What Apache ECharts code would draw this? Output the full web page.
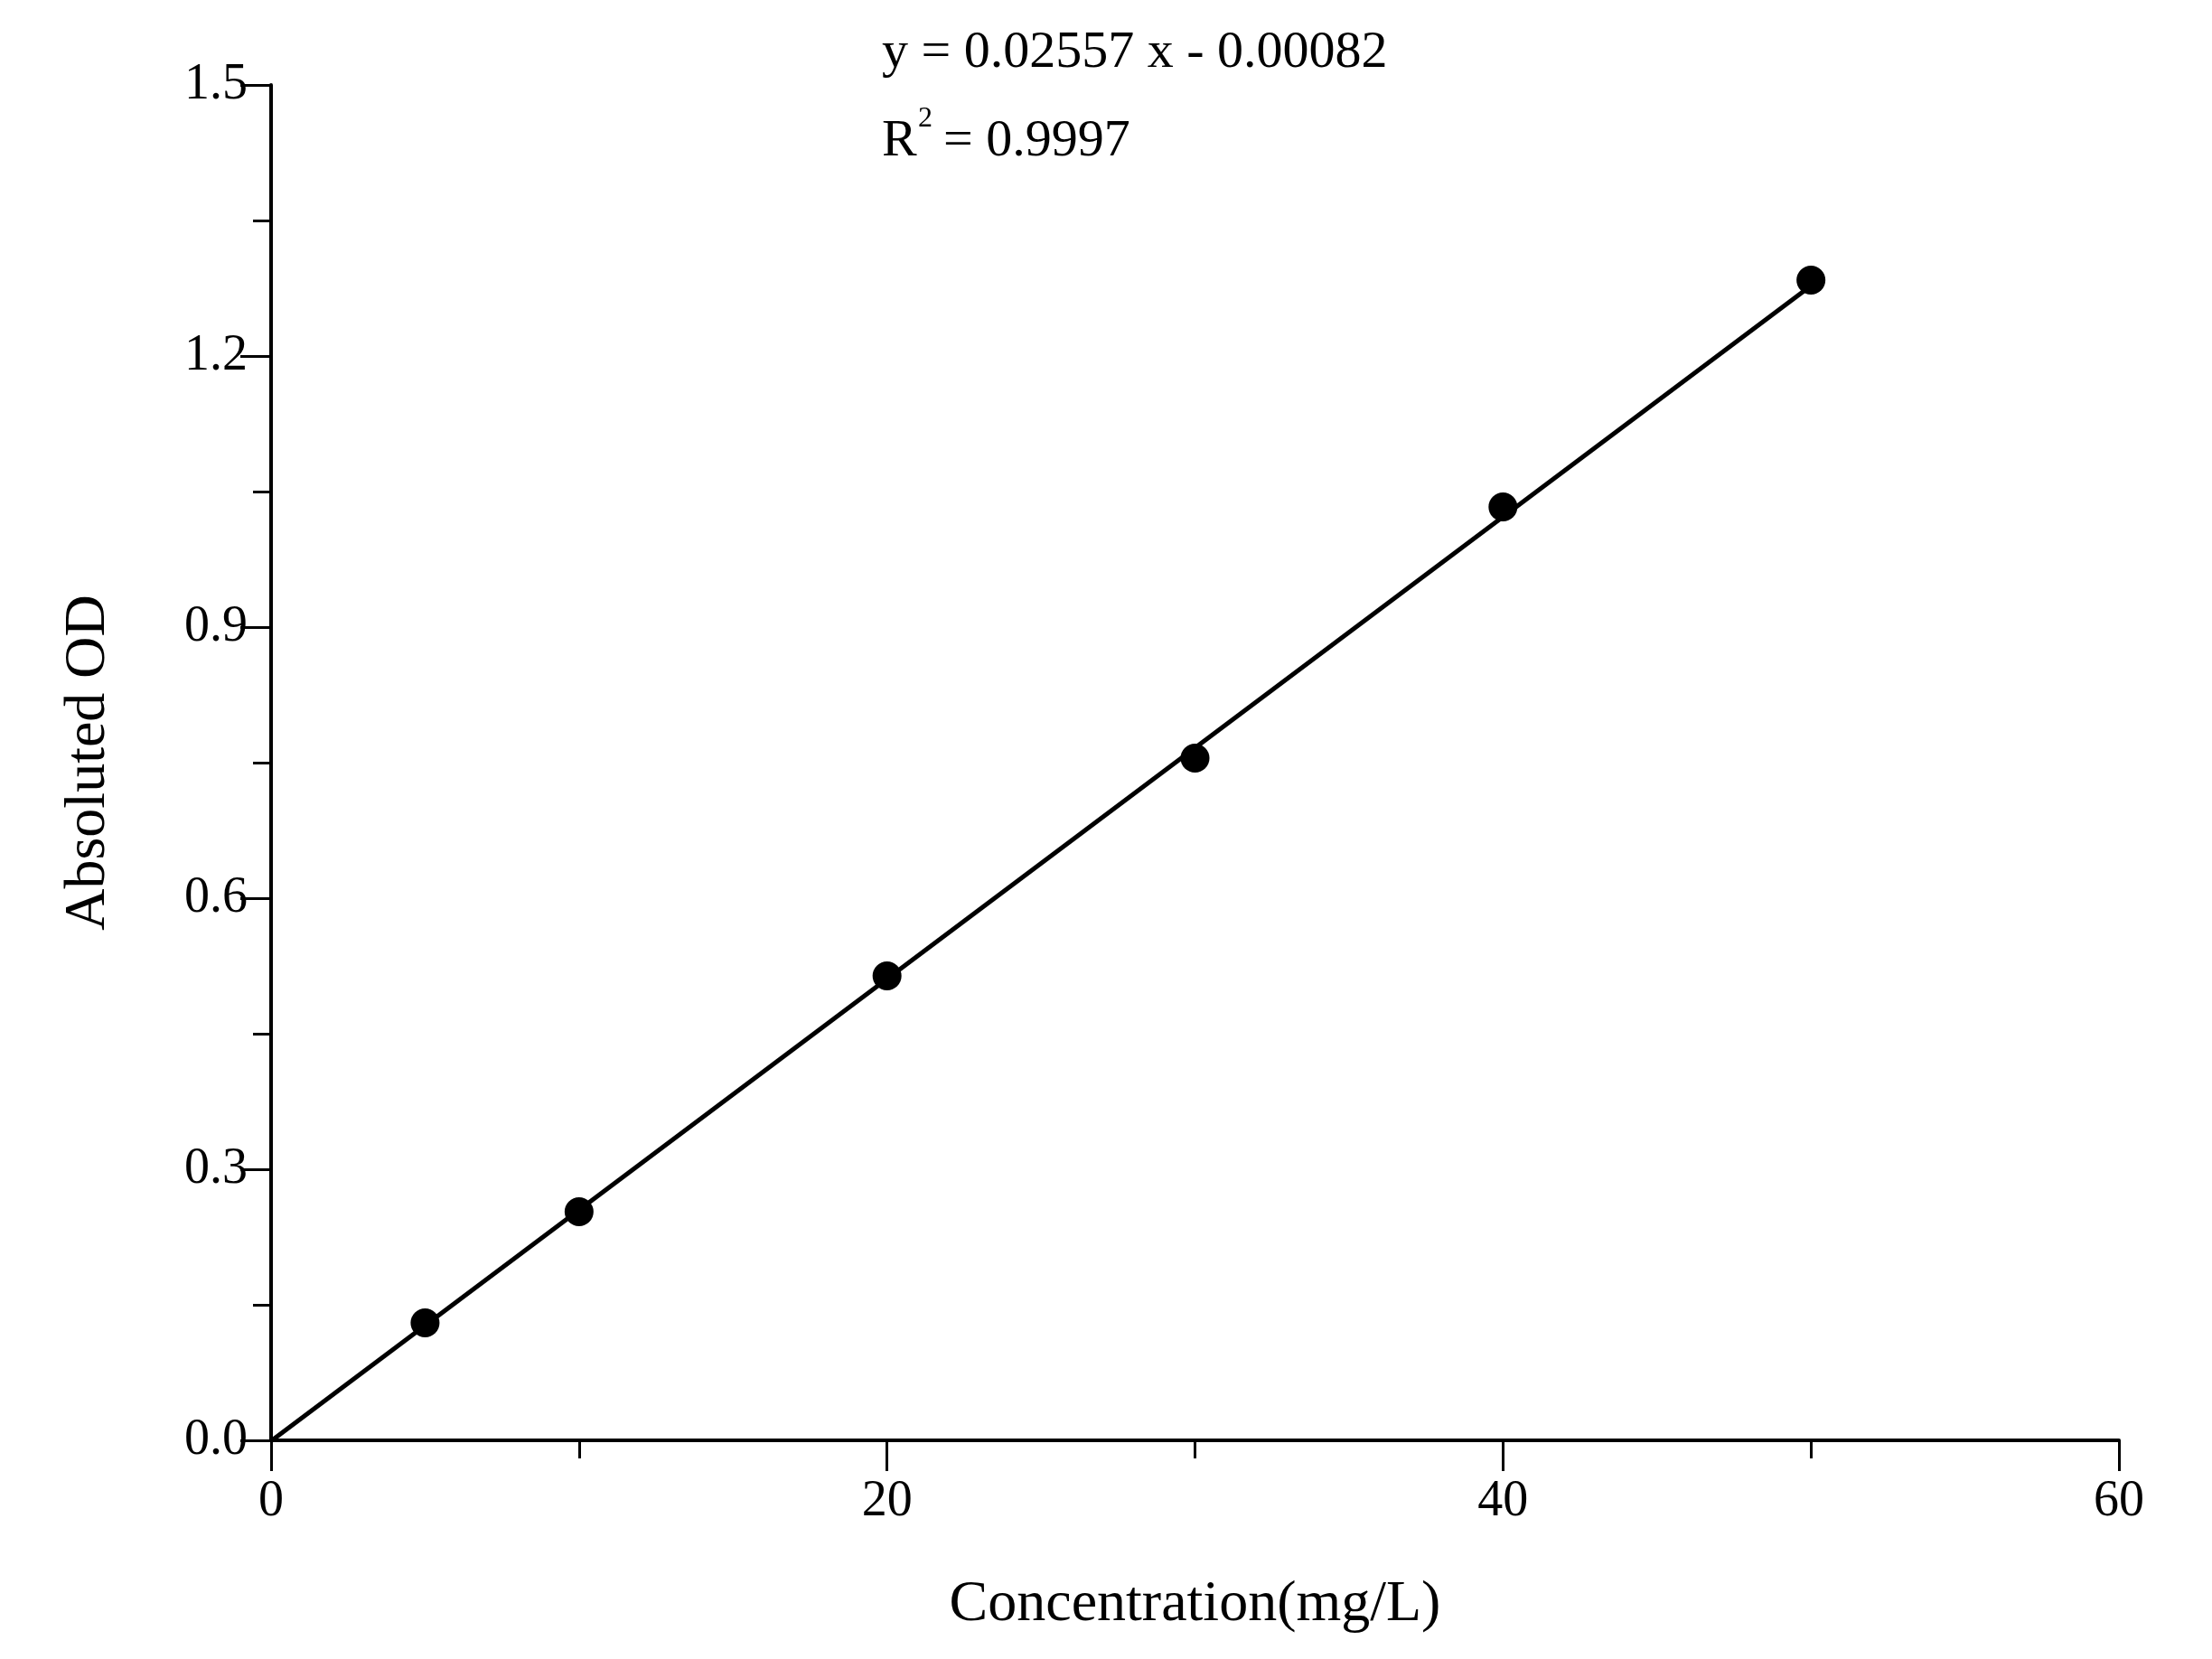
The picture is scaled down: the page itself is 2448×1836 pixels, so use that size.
<!DOCTYPE html><html><head><meta charset="utf-8"><script src="https://cdn.jsdelivr.net/npm/echarts@6/dist/echarts.min.js"></script>
<style>html,body{margin:0;background:#fff}#c{width:2448px;height:1836px}</style></head><body><div id="c"></div><script>
const concentrations=[5,10,20,30,40,50];
const odValues=[0.130,0.253,0.514,0.755,1.033,1.284];
const slope=0.02557, intercept=-0.00082;
const fitX=[0,50];
const F='Liberation Serif';
const chart=echarts.init(document.getElementById('c'));
const axisCommon={axisLine:{lineStyle:{color:'#000',width:4}},axisTick:{inside:false,length:34,lineStyle:{color:'#000',width:3}},
 minorTick:{show:true,splitNumber:2,length:20,lineStyle:{color:'#000',width:3}},splitLine:{show:false}};
chart.setOption({
 animation:false,
 grid:{left:300,right:103,top:94,bottom:242},
 xAxis:Object.assign({type:'value',min:0,max:60,interval:20,name:'Concentration(mg/L)',nameLocation:'middle',nameGap:150,
   nameTextStyle:{color:'#000',fontFamily:F,fontSize:64}},axisCommon,{axisLabel:{color:'#000',fontFamily:F,fontSize:56,margin:40}}),
 yAxis:Object.assign({type:'value',min:0,max:1.5,interval:0.3,name:'Absoluted OD',nameLocation:'middle',nameGap:170,
   nameTextStyle:{color:'#000',fontFamily:F,fontSize:64}},axisCommon,{axisLabel:{color:'#000',fontFamily:F,fontSize:56,margin:26,formatter:v=>v.toFixed(1)}}),
 graphic:[
  {type:'text',left:976,top:30,style:{text:'y = 0.02557 x - 0.00082',fill:'#000',font:'58px "Liberation Serif"'}},
  {type:'text',left:976,top:128,style:{text:'R',fill:'#000',font:'58px "Liberation Serif"'}},
  {type:'text',left:1016,top:116,style:{text:'2',fill:'#000',font:'32px "Liberation Serif"'}},
  {type:'text',left:1044,top:128,style:{text:'= 0.9997',fill:'#000',font:'58px "Liberation Serif"'}}
 ],
 series:[
  {type:'line',data:fitX.map(x=>[x,slope*x+intercept]),showSymbol:false,lineStyle:{color:'#000',width:5},z:1},
  {type:'scatter',data:concentrations.map((x,i)=>[x,odValues[i]]),symbolSize:32,itemStyle:{color:'#000',opacity:1},z:2}
 ]
});
</script></body></html>
